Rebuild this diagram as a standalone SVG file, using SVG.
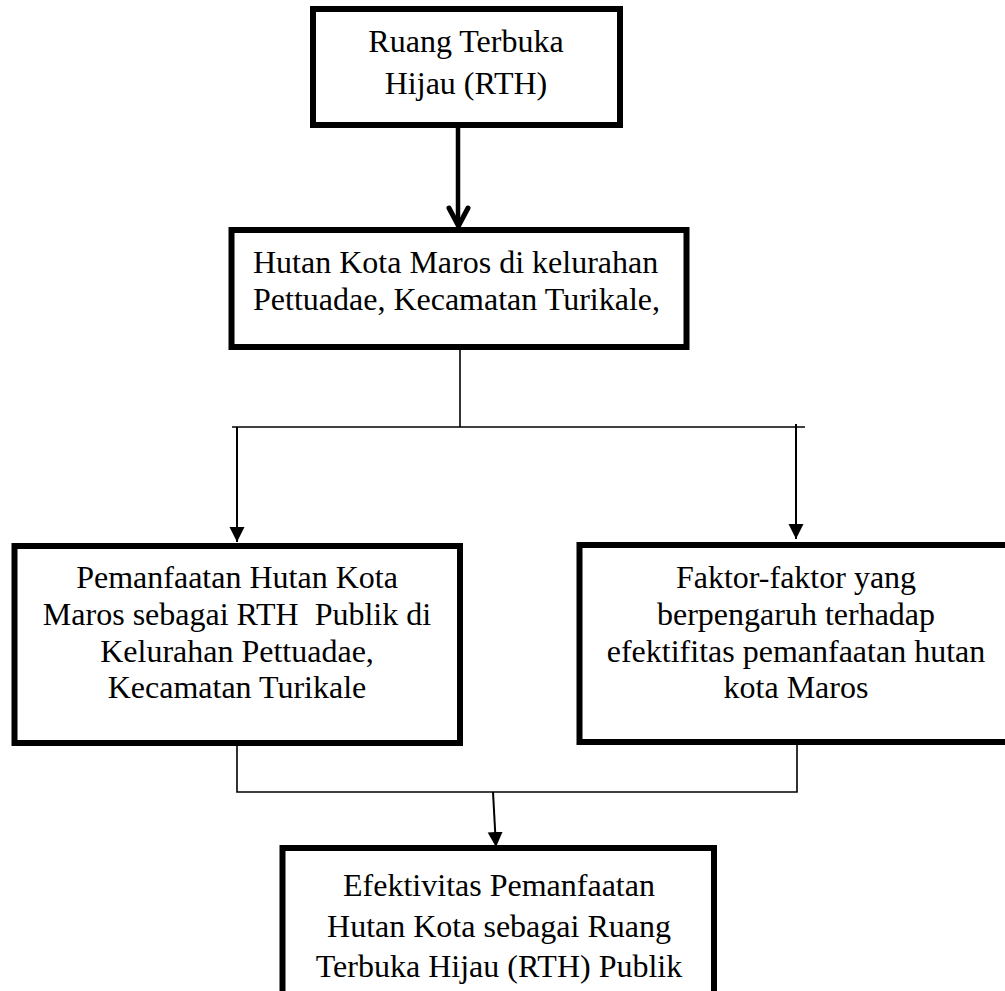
<svg xmlns="http://www.w3.org/2000/svg" width="1005" height="991" viewBox="0 0 1005 991">
  <style>
    .box { fill: #ffffff; stroke: #000000; stroke-width: 6; }
    .t { font-family: "Liberation Serif", "Times New Roman", serif; font-size: 32px; fill: #000000; }
    .c { text-anchor: middle; }
    .thin { fill: none; stroke: #000000; stroke-width: 1.6; }
    .arr { fill: none; stroke: #000000; stroke-width: 2; }
  </style>
  <defs>
    <marker id="tri" markerUnits="userSpaceOnUse" markerWidth="16" markerHeight="16" refX="15" refY="7.5" orient="auto" viewBox="0 0 16 16">
      <path d="M0,0 L15,7.5 L0,15 Z" fill="#000000"/>
    </marker>
  </defs>
  <rect width="1005" height="991" fill="#ffffff"/>

  <g id="connectors">
    <line x1="458" y1="128" x2="458" y2="225" stroke="#000000" stroke-width="4.5"/>
    <polyline points="449,208 458.5,226 468,208" fill="none" stroke="#000000" stroke-width="5" stroke-linecap="round" stroke-linejoin="miter"/>
    <line class="thin" x1="460" y1="350" x2="460" y2="427"/>
    <line class="thin" x1="232" y1="427" x2="805" y2="427"/>
    <line class="arr" x1="237" y1="427" x2="237" y2="542" marker-end="url(#tri)"/>
    <line class="arr" x1="796" y1="424" x2="796" y2="539" marker-end="url(#tri)"/>
    <polyline class="thin" points="237,746 237,792 797,792 797,745"/>
    <line class="arr" x1="493" y1="792" x2="496" y2="847" marker-end="url(#tri)"/>
  </g>

  <g id="node-rth">
    <rect class="box" x="313" y="9" width="307" height="116"/>
    <text class="t c" x="466" y="52">Ruang Terbuka</text>
    <text class="t c" x="466" y="94">Hijau (RTH)</text>
  </g>

  <g id="node-hutan-kota">
    <rect class="box" x="231.5" y="230" width="455" height="117"/>
    <text class="t" x="253" y="273">Hutan Kota Maros di kelurahan</text>
    <text class="t" x="253" y="310">Pettuadae, Kecamatan Turikale,</text>
  </g>

  <g id="node-pemanfaatan">
    <rect class="box" x="14.5" y="546" width="445.5" height="197"/>
    <text class="t c" x="237" y="588">Pemanfaatan Hutan Kota</text>
    <text class="t c" x="237" y="625" xml:space="preserve">Maros sebagai RTH  Publik di</text>
    <text class="t c" x="237" y="662">Kelurahan Pettuadae,</text>
    <text class="t c" x="237" y="698">Kecamatan Turikale</text>
  </g>

  <g id="node-faktor">
    <rect class="box" x="579.5" y="545" width="440" height="197"/>
    <text class="t c" x="796" y="588">Faktor-faktor yang</text>
    <text class="t c" x="796" y="625">berpengaruh terhadap</text>
    <text class="t c" x="796" y="662">efektifitas pemanfaatan hutan</text>
    <text class="t c" x="796" y="698">kota Maros</text>
  </g>

  <g id="node-efektivitas">
    <rect class="box" x="282.5" y="848" width="431.5" height="160"/>
    <text class="t c" x="499" y="896">Efektivitas Pemanfaatan</text>
    <text class="t c" x="499" y="937">Hutan Kota sebagai Ruang</text>
    <text class="t c" x="499" y="977">Terbuka Hijau (RTH) Publik</text>
  </g>
</svg>
